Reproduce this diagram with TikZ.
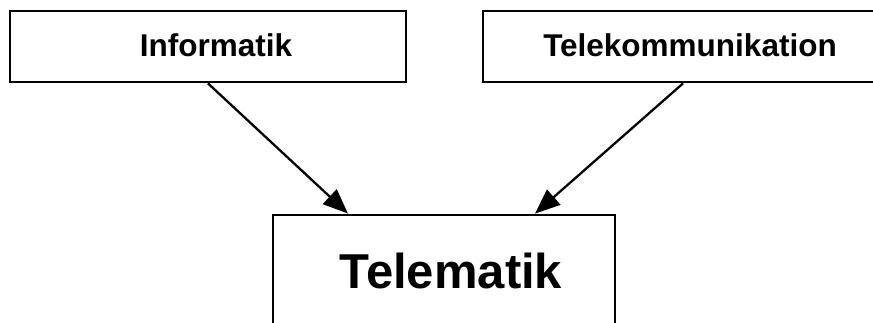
\documentclass[tikz,border=0pt]{standalone}
\usepackage{fontspec}
\setmainfont{Liberation Sans}
\usetikzlibrary{arrows.meta}
\begin{document}
\begin{tikzpicture}[x=1pt,y=-1pt,
  box/.style={draw=black, line width=2.8pt, fill=white, inner sep=0pt},
  lbl/.style={inner sep=0pt, anchor=base, font=\bfseries\fontsize{31.5}{36}\selectfont},
  conn/.style={line width=2.3pt, -{Triangle[length=25pt,width=20pt]}}]
\useasboundingbox (0,0) rectangle (873,323);
\clip (0,0) rectangle (873,323);
\fill[white] (0,0) rectangle (873,323);
\node[box, minimum width=396pt, minimum height=71pt] (inf) at (208,46.5) {};
\node[lbl] (inftext) at (216,57) {Informatik};
\node[box, minimum width=414pt, minimum height=71pt] (tk) at (690,46.5) {};
\node[lbl] (tktext) at (690,57) {Telekommunikation};
\node[box, minimum width=342pt, minimum height=120pt] (tm) at (444,275) {};
\node[lbl, font=\bfseries\fontsize{49}{56}\selectfont] (tmtext) at (451,288) {Telematik};
\draw[conn] (inf.south) -- ([xshift=-96pt]tm.north);
\draw[conn] ([xshift=-7pt]tk.south) -- ([xshift=91pt]tm.north);
\end{tikzpicture}
\end{document}
